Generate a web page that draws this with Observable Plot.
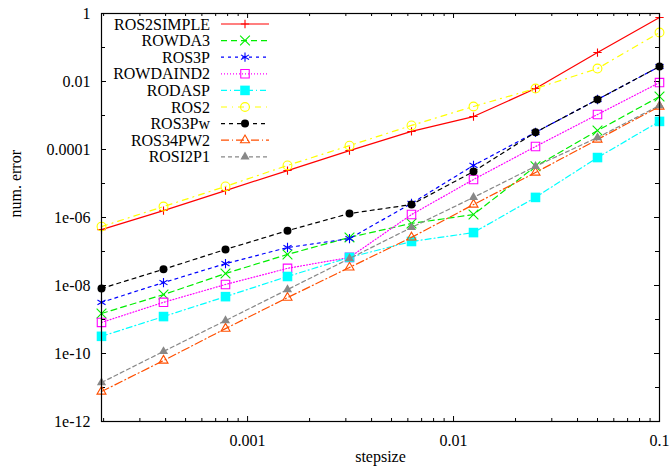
<!DOCTYPE html>
<html><head><meta charset="utf-8">
<script src="https://cdn.jsdelivr.net/npm/d3@7"></script>
<script src="https://cdn.jsdelivr.net/npm/@observablehq/plot@0.6"></script>
<style>html,body{margin:0;padding:0;background:#fff;}</style>
</head><body><div id="chart"></div>
<script>
// ---- data ----
const stepsize = [0.0001953125, 0.000390625, 0.00078125, 0.0015625, 0.003125, 0.00625, 0.0125, 0.025, 0.05, 0.1];
const seriesNames = ["ROS2SIMPLE", "ROWDA3", "ROS3P", "ROWDAIND2", "RODASP", "ROS2", "ROS3Pw", "ROS34PW2", "ROSI2P1"];
const ros2simple = [4.4e-7, 1.6e-6, 6.2e-6, 2.4e-5, 9.3e-5, 3.4e-4, 9.3e-4, 6.2e-3, 7.1e-2, 0.76];
const rowda3     = [1.5e-9, 5.4e-9, 2.25e-8, 8.2e-8, 2.6e-7, 6.7e-7, 1.22e-6, 3.2e-5, 3.6e-4, 3.6e-3];
const ros3p      = [3.2e-9, 1.22e-8, 4.4e-8, 1.31e-7, 2.4e-7, 2.6e-6, 3.4e-5, 3.2e-4, 2.96e-3, 2.76e-2];
const rowdaind2  = [8.2e-10, 3.2e-9, 1.07e-8, 3.2e-8, 6.7e-8, 1.22e-6, 1.31e-5, 1.22e-4, 1.07e-3, 9.3e-3];
const rodasp     = [3.2e-10, 1.22e-9, 4.7e-9, 1.84e-8, 6.7e-8, 1.97e-7, 3.6e-7, 3.9e-6, 5.8e-5, 6.7e-4];
const ros2       = [5.4e-7, 2.1e-6, 8.2e-6, 3.4e-5, 1.3e-4, 5.1e-4, 1.84e-3, 6.2e-3, 2.4e-2, 0.276];
const ros3pw     = [8.2e-9, 3.0e-8, 1.15e-7, 4.1e-7, 1.31e-6, 2.4e-6, 2.25e-5, 3.2e-4, 2.96e-3, 2.76e-2];
const ros34pw2   = [7.6e-12, 6.2e-11, 5.4e-10, 4.4e-9, 3.4e-8, 2.6e-7, 2.4e-6, 2.1e-5, 1.97e-4, 1.84e-3];
const rosi2p1    = [1.4e-11, 1.15e-10, 9.3e-10, 7.6e-9, 6.2e-8, 5.1e-7, 3.9e-6, 3.2e-5, 2.25e-4, 1.97e-3];
const seriesValues = [ros2simple, rowda3, ros3p, rowdaind2, rodasp, ros2, ros3pw, ros34pw2, rosi2p1];

const xTickValues = [0.001, 0.01, 0.1];
const xTickLabels = ["0.001", "0.01", "0.1"];
const yTickValues = [1, 1e-2, 1e-4, 1e-6, 1e-8, 1e-10, 1e-12];
const yTickLabels = ["1", "0.01", "0.0001", "1e-06", "1e-08", "1e-10", "1e-12"];
const xLabel = "stepsize";
const yLabel = "num. error";

// ---- styles ----
const styles = [
  {color: "#ff0000", dash: null,        symbol: "plus",      r: 2.8, filled: false},
  {color: "#00ee00", dash: "6,4",       symbol: "times",     r: 4.5, filled: false},
  {color: "#0000ff", dash: "3,4",       symbol: "asterisk",  r: 4.4, filled: false},
  {color: "#ff00ff", dash: "1,2",       symbol: "square2",   r: 5.4, filled: false},
  {color: "#00ffff", dash: "6,3,1,3",   symbol: "square",    r: 5.4, filled: true},
  {color: "#ffff00", dash: "6,5,1,5",   symbol: "circle",    r: 4.4, filled: false},
  {color: "#000000", dash: "4,4",       symbol: "circle",    r: 4.0, filled: true},
  {color: "#ff4f00", dash: "8,3,1,3",   symbol: "triangle2", r: 4.3, filled: false},
  {color: "#888888", dash: "4,3",       symbol: "triangle",  r: 3.4, filled: true}
];
const d3Symbols = {plus: d3.symbolPlus, times: d3.symbolTimes, asterisk: d3.symbolAsterisk, square2: d3.symbolSquare2,
  square: d3.symbolSquare, circle: d3.symbolCircle, triangle2: d3.symbolTriangle2, triangle: d3.symbolTriangle};

const W = 670, H = 471;
const M = {left: 101, right: 11, top: 13, bottom: 50};
const frameH = H - M.top - M.bottom, frameW = W - M.left - M.right;
const font = "Liberation Serif, DejaVu Serif, serif";
const fontSize = 16;

const table = [];
seriesNames.forEach((name, i) => stepsize.forEach((x, j) => table.push({series: name, x, y: seriesValues[i][j]})));

const xDomain = d3.extent(stepsize);
const xMinor = [1e-4, 1e-3, 1e-2].flatMap(p => d3.range(2, 10).map(k => k * p)).filter(v => v >= xDomain[0] && v <= xDomain[1]);
const yMinor = [1e-1, 1e-3, 1e-5, 1e-7, 1e-9, 1e-11];
const xFmt = new Map(xTickValues.map((v, i) => [v, xTickLabels[i]]));
const yFmt = new Map(yTickValues.map((v, i) => [v, yTickLabels[i]]));

const majorLen = 5, minorLen = 3;
const marks = [
  // ticks (inward, mirrored)
  Plot.tickX(xTickValues, {x: d => d, insetTop: frameH - majorLen, stroke: "black"}),
  Plot.tickX(xTickValues, {x: d => d, insetBottom: frameH - majorLen, stroke: "black"}),
  Plot.tickX(xMinor, {x: d => d, insetTop: frameH - minorLen, stroke: "black"}),
  Plot.tickX(xMinor, {x: d => d, insetBottom: frameH - minorLen, stroke: "black"}),
  Plot.tickY(yTickValues, {y: d => d, insetRight: frameW - majorLen, stroke: "black"}),
  Plot.tickY(yTickValues, {y: d => d, insetLeft: frameW - majorLen, stroke: "black"}),
  Plot.tickY(yMinor, {y: d => d, insetRight: frameW - 4, stroke: "black"}),
  Plot.tickY(yMinor, {y: d => d, insetLeft: frameW - 4, stroke: "black"}),
  Plot.axisX(xTickValues, {anchor: "bottom", tickSize: 0, tickPadding: 13, tickFormat: d => xFmt.get(d), label: null,
    fontFamily: font, fontSize}),
  Plot.axisY(yTickValues, {anchor: "left", tickSize: 0, tickPadding: 11, tickFormat: d => yFmt.get(d), label: null,
    fontFamily: font, fontSize}),
  Plot.text([xLabel], {frameAnchor: "bottom", dy: 40, text: d => d, fontFamily: font, fontSize, fill: "black"}),
  Plot.text([yLabel], {frameAnchor: "left", dx: -86, rotate: -90, text: d => d, fontFamily: font, fontSize, fill: "black"})
];
seriesNames.forEach((name, i) => {
  const rows = table.filter(d => d.series === name);
  const s = styles[i];
  marks.push(Plot.line(rows, {x: "x", y: "y", stroke: s.color, strokeWidth: 1.2, strokeDasharray: s.dash || undefined}));
  marks.push(Plot.dot(rows, {x: "x", y: "y", symbol: s.symbol, r: s.r,
    stroke: s.filled ? "none" : s.color, fill: s.filled ? s.color : "none", strokeWidth: 1.1}));
});
marks.push(Plot.frame({stroke: "black", strokeWidth: 1.2}));

const chart = Plot.plot({
  width: W, height: H,
  marginLeft: M.left, marginRight: M.right, marginTop: M.top, marginBottom: M.bottom,
  style: {fontFamily: font, fontSize: fontSize + "px", color: "black", background: "white"},
  x: {type: "log", domain: xDomain, axis: null},
  y: {type: "log", domain: [1e-12, 1], axis: null},
  marks
});

// ---- legend (gnuplot style, inside top-left) ----
const leg = {textRight: 210, lineX1: 221, lineX2: 269, markX: 245, top: 24, step: 16.6};
const g = d3.select(chart).append("g").style("font-family", font).style("font-size", fontSize + "px");
seriesNames.forEach((name, i) => {
  const s = styles[i];
  const y = leg.top + i * leg.step;
  g.append("text").attr("x", leg.textRight).attr("y", y).attr("dy", "0.35em").attr("text-anchor", "end")
    .attr("fill", "black").style("font-family", font).style("font-size", fontSize + "px").text(name);
  g.append("line").attr("x1", leg.lineX1).attr("x2", leg.lineX2).attr("y1", y).attr("y2", y)
    .attr("stroke", s.color).attr("stroke-width", 1.2).attr("stroke-dasharray", s.dash);
  g.append("path").attr("transform", `translate(${leg.markX},${y})`)
    .attr("d", d3.symbol().type(d3Symbols[s.symbol]).size(Math.PI * s.r * s.r)())
    .attr("fill", s.filled ? s.color : "none").attr("stroke", s.filled ? "none" : s.color).attr("stroke-width", 1.1);
});

document.getElementById("chart").append(chart);
</script>
</body></html>
